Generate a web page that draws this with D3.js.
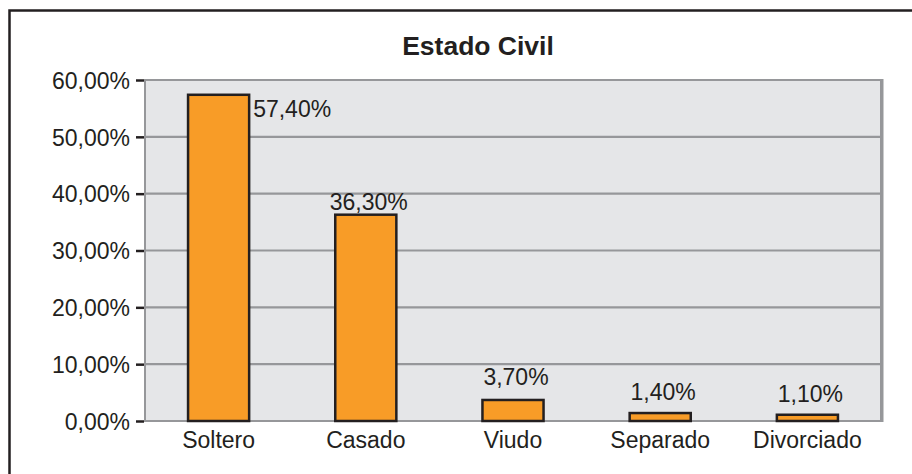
<!DOCTYPE html>
<html>
<head>
  <meta charset="UTF-8">
  <style>
    body { margin: 0; background: #fff; }
    svg { display: block; font-family: "Liberation Sans", Arial, sans-serif; }
  </style>
</head>
<body>
<svg></svg>
<script src="https://d3js.org/d3.v7.min.js"></script>
<script>

const categories = ["Soltero", "Casado", "Viudo", "Separado", "Divorciado"];
const values = [57.4, 36.3, 3.7, 1.4, 1.1];
const valueLabels = ["57,40%", "36,30%", "3,70%", "1,40%", "1,10%"];
const yTicks = [0, 10, 20, 30, 40, 50, 60];
const title = "Estado Civil";

let width = 912, height = 474;
let margin = {top: 80, right: 30, bottom: 53, left: 145};

let svg = d3.select("svg")
    .attr("width", width)
    .attr("height", height);

// outer frame (runs off right and bottom of the picture)
svg.append("rect")
    .attr("x", 9.5).attr("y", 10.5)
    .attr("width", 920).attr("height", 480)
    .attr("fill", "none")
    .attr("stroke", "#231f20")
    .attr("stroke-width", 2.5);

let x = d3.scaleBand()
    .domain(categories)
    .range([margin.left, 881])
    .paddingInner(0.585)
    .paddingOuter(0.2925);

let y = d3.scaleLinear()
    .domain([0, 60])
    .range([421, margin.top]);

// plot background
svg.append("rect")
    .attr("x", margin.left).attr("y", y(60))
    .attr("width", 881 - margin.left).attr("height", y(0) - y(60))
    .attr("fill", "#e5e6e8")
    .attr("stroke", "#96979a")
    .attr("stroke-width", 2);

// grid lines
svg.append("g")
  .selectAll("line")
  .data(yTicks)
  .enter()
  .append("line")
    .attr("x1", margin.left).attr("x2", 881)
    .attr("y1", d => y(d)).attr("y2", d => y(d))
    .attr("stroke", "#96979a")
    .attr("stroke-width", 2.2);

// right edge, a bit heavier
svg.append("line")
    .attr("x1", 882).attr("x2", 882)
    .attr("y1", y(60) - 1).attr("y2", y(0) + 1)
    .attr("stroke", "#96979a")
    .attr("stroke-width", 3);

// y axis
let yAxis = d3.axisLeft(y)
    .tickValues(yTicks)
    .tickSize(8)
    .tickPadding(6)
    .tickFormat(d => d3.format(".2f")(d).replace(".", ",") + "%");

let gy = svg.append("g")
    .attr("transform", "translate(" + (margin.left - 1) + ",0)")
    .call(yAxis);
gy.select(".domain").remove();
gy.selectAll(".tick line").attr("stroke", "#231f20").attr("stroke-width", 2.5);
gy.selectAll(".tick text")
    .attr("fill", "#231f20")
    .style("font-size", "23px")
    .attr("dy", "0.36em");

// bars
svg.append("g")
  .selectAll("rect")
  .data(values)
  .enter()
  .append("rect")
    .attr("x", (d, i) => x(categories[i]))
    .attr("y", d => y(d))
    .attr("width", x.bandwidth())
    .attr("height", d => y(0) - y(d))
    .attr("fill", "#f89c27")
    .attr("stroke", "#231f20")
    .attr("stroke-width", 2.5);

// value labels
let labelGap = [0, 5, 15, 13, 13];
svg.append("g")
  .selectAll("text")
  .data(values)
  .enter()
  .append("text")
    .attr("x", (d, i) => i === 0 ? x(categories[i]) + x.bandwidth() + 4 : x(categories[i]) + x.bandwidth() / 2 + 3)
    .attr("y", (d, i) => i === 0 ? y(d) + 22 : y(d) - labelGap[i])
    .attr("text-anchor", (d, i) => i === 0 ? "start" : "middle")
    .attr("fill", "#231f20")
    .style("font-size", "23px")
    .text((d, i) => valueLabels[i]);

// category labels
let xAxis = d3.axisBottom(x).tickSize(0).tickPadding(0);
let gx = svg.append("g")
    .attr("transform", "translate(0," + y(0) + ")")
    .call(xAxis);
gx.select(".domain").remove();
gx.selectAll(".tick text")
    .attr("y", 27)
    .attr("dy", 0)
    .attr("fill", "#231f20")
    .style("font-size", "23px");

// title
svg.append("text")
    .attr("x", 478)
    .attr("y", 55)
    .attr("text-anchor", "middle")
    .attr("fill", "#231f20")
    .style("font-size", "26.5px")
    .style("font-weight", "bold")
    .text(title);

</script>
</body>
</html>
